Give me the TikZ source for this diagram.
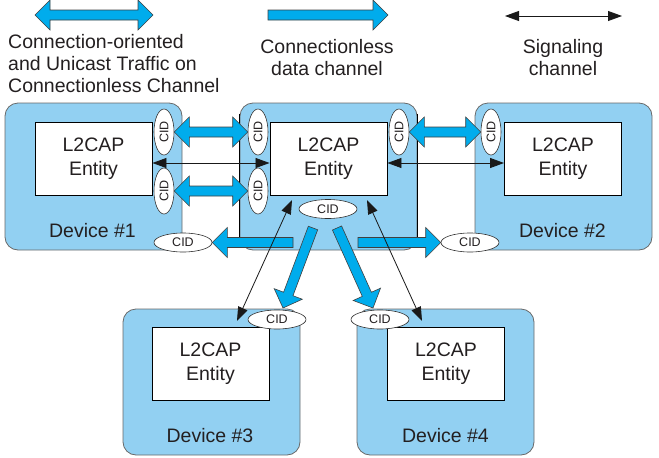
\documentclass[tikz,border=0pt]{standalone}
\usepackage{fontspec}
\usepackage{graphicx}
\setmainfont{Liberation Sans}
\usetikzlibrary{calc,arrows.meta,shapes.geometric}
\definecolor{devblue}{RGB}{146,208,242}
\definecolor{arrblue}{RGB}{0,172,236}
\definecolor{devline}{RGB}{105,105,105}
\definecolor{txt}{RGB}{35,31,32}
\newcommand\bigfont{\fontsize{19.5}{22}\selectfont}
\newcommand\entfont{\fontsize{19.5}{23.5}\selectfont}
\newcommand\cidfont{\fontsize{12.5}{14}\selectfont}
\tikzset{
  devbox/.style={draw=devline, fill=devblue, rounded corners=13pt, line width=0.8pt,
    minimum width=177, minimum height=147, inner sep=0},
  entbox/.style={draw=black, fill=white, line width=0.9pt, minimum width=117,
    minimum height=73, inner sep=0, align=center, font=\entfont, text=txt},
  devlabel/.style={anchor=base, inner sep=0, font=\bigfont, text=txt},
  legtext/.style={inner sep=0, font=\bigfont, text=txt},
  cidv/.style={ellipse, draw=black!80, fill=white, line width=0.6pt,
    minimum width=20, minimum height=46, inner sep=0, font=\cidfont, text=txt},
  cidh/.style={ellipse, draw=black!80, fill=white, line width=0.6pt,
    minimum width=58, minimum height=19, inner sep=0, font=\cidfont, text=txt},
  bluearrow/.style={fill=arrblue, draw=black!75, line width=0.6pt, line join=miter},
  sigarrow/.style={{Triangle[length=14pt,width=10pt]}-{Triangle[length=14pt,width=10pt]},
    line width=0.8pt, draw=black!90},
}
\newcommand\blueSingle[2]{%
  \coordinate (hB) at ($(#2)!15pt!(#1)$);
  \filldraw[bluearrow] ($(#1)!5pt!90:(#2)$) -- ($(hB)!5pt!90:(#2)$) -- ($(hB)!15pt!90:(#2)$)
    -- (#2) -- ($(hB)!15pt!-90:(#2)$) -- ($(hB)!5pt!-90:(#2)$) -- ($(#1)!5pt!-90:(#2)$) -- cycle;}
\newcommand\blueDouble[2]{%
  \coordinate (hA) at ($(#1)!15pt!(#2)$);
  \coordinate (hB) at ($(#2)!15pt!(#1)$);
  \filldraw[bluearrow] (#1) -- ($(hA)!15pt!90:(#2)$) -- ($(hA)!5pt!90:(#2)$)
    -- ($(hB)!5pt!90:(#2)$) -- ($(hB)!15pt!90:(#2)$) -- (#2)
    -- ($(hB)!15pt!-90:(#2)$) -- ($(hB)!5pt!-90:(#2)$)
    -- ($(hA)!5pt!-90:(#2)$) -- ($(hA)!15pt!-90:(#2)$) -- cycle;}
\begin{document}
\begin{tikzpicture}[x=1pt, y=-1pt]
\useasboundingbox (0,0) rectangle (659,458);
% devices
\node[devbox] (dev1) at (93.5,176.5) {};
\node[devbox] (devc) at (328.5,176.5) {};
\node[devbox] (dev2) at (563.5,176.5) {};
\node[devbox, minimum height=146] (dev3) at (211.5,382) {};
\node[devbox, minimum height=146] (dev4) at (445.5,382) {};
\draw[line width=0.9pt] ($(devc.north west)+(0,11)$) -- ($(devc.south west)+(0,-11)$);
\draw[line width=0.9pt] ($(devc.north east)+(0,11)$) -- ($(devc.south east)+(0,-11)$);
% entities
\node[entbox] (e1) at (93.5,158.5) {L2CAP\\Entity};
\node[entbox] (ec) at (328.5,158.5) {L2CAP\\Entity};
\node[entbox] (e2) at (563,158.5) {L2CAP\\Entity};
\node[entbox] (e3) at (210.5,363.5) {L2CAP\\Entity};
\node[entbox] (e4) at (446,363.5) {L2CAP\\Entity};
% device labels
\node[devlabel] (l1) at (92.5,237) {Device \#1};
\node[devlabel] (l2) at (562.5,237) {Device \#2};
\node[devlabel] (l3) at (210,442) {Device \#3};
\node[devlabel] (l4) at (445.5,442) {Device \#4};
% CIDs
\node[cidv] (c1a) at (164,132) {\rotatebox{90}{CID}};
\node[cidv] (c1b) at (164,191) {\rotatebox{90}{CID}};
\node[cidv] (cca) at (258,132) {\rotatebox{90}{CID}};
\node[cidv] (ccb) at (258,191) {\rotatebox{90}{CID}};
\node[cidv] (ccr) at (399,132) {\rotatebox{90}{CID}};
\node[cidv] (c2a) at (491,132) {\rotatebox{90}{CID}};
\node[cidh] (ccd) at (328,209) {CID};
\node[cidh] (c1h) at (183,242.5) {CID};
\node[cidh] (c2h) at (470,242.5) {CID};
\node[cidh] (c3h) at (277,319.5) {CID};
\node[cidh] (c4h) at (380,319.5) {CID};
% blue double arrows between CIDs
\blueDouble{c1a.east}{cca.west}
\blueDouble{c1b.east}{ccb.west}
\blueDouble{ccr.east}{c2a.west}
% blue single arrows (connectionless)
\coordinate (tl) at (293,242.5);
\coordinate (tr) at (358,242.5);
\coordinate (td3) at (313,228);
\coordinate (td4) at (337,228);
\coordinate (hd3) at (283,308);
\coordinate (hd4) at (373,308);
\blueSingle{tl}{c1h.east}
\blueSingle{tr}{c2h.west}
\blueSingle{td3}{hd3}
\blueSingle{td4}{hd4}
% signaling arrows
\draw[sigarrow] ($(e1.east)+(0,4.5)$) -- ($(ec.west)+(0,4.5)$);
\draw[sigarrow] ($(ec.east)+(0,4.5)$) -- ($(e2.west)+(0,4.5)$);
\coordinate (s3a) at (292,200);
\coordinate (s3b) at (237,321);
\coordinate (s4a) at (367,200);
\coordinate (s4b) at (422,321);
\draw[sigarrow] (s3a) -- (s3b);
\draw[sigarrow] (s4a) -- (s4b);
% legend
\coordinate (lga) at (35,15);
\coordinate (lgb) at (153,15);
\coordinate (lsa) at (268,15);
\coordinate (lsb) at (388,15);
\coordinate (lta) at (505,16);
\coordinate (ltb) at (622,16);
\blueDouble{lga}{lgb}
\blueSingle{lsa}{lsb}
\draw[sigarrow] (lta) -- (ltb);
\node[legtext, anchor=west, align=left] (t1) at (8,64) {Connection-oriented\\and Unicast Traffic on\\Connectionless Channel};
\node[legtext, align=center] (t2) at (327,57.5) {Connectionless\\data channel};
\node[legtext, align=center] (t3) at (563,57.5) {Signaling\\channel};
\end{tikzpicture}
\end{document}
